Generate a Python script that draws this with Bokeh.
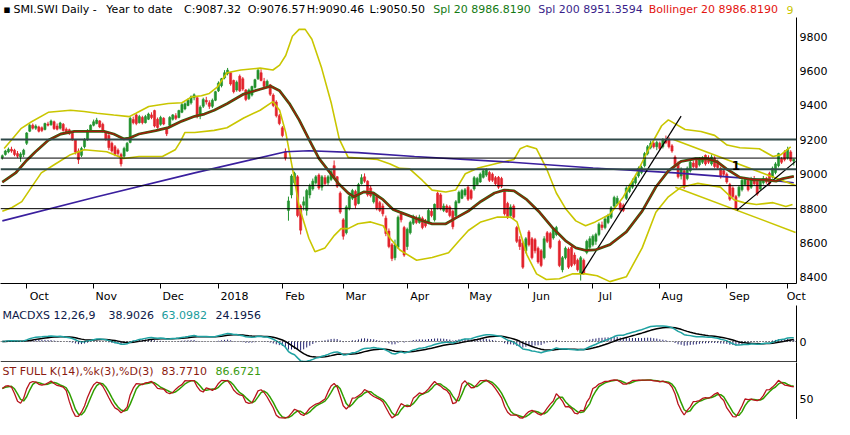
import numpy as np
import pandas as pd
from bokeh.plotting import figure
from bokeh.models import Range1d, FixedTicker, Label, Span, ColumnDataSource, LinearAxis
from bokeh.layouts import column
from bokeh.embed import file_html
from bokeh.resources import INLINE

FONT = "DejaVu Sans"

# ---------------- data ----------------
month_idx = [8, 30, 52, 71, 92, 112, 133, 153, 173, 194, 216, 238, 258]
month_lbl = ["Oct", "Nov", "Dec", "2018", "Feb", "Mar", "Apr", "May", "Jun", "Jul", "Aug", "Sep", "Oct"]
price_ticks = [8400, 8600, 8800, 9000, 9200, 9400, 9600, 9800]

opens = [
    9098, 9115, 9130, 9145, 9140, 9120, 9100, 9115, 9180, 9250,
    9285, 9268, 9275, 9270, 9260, 9292, 9288, 9305, 9280, 9268,
    9290, 9262, 9258, 9238, 9200, 9135, 9110, 9160, 9200, 9255,
    9285, 9295, 9310, 9290, 9245, 9225, 9180, 9160, 9140, 9115,
    9105, 9135, 9185, 9318, 9345, 9300, 9330, 9300, 9320, 9345,
    9370, 9320, 9290, 9325, 9265, 9285, 9320, 9340, 9330, 9360,
    9380, 9400, 9415, 9445, 9445, 9350, 9395, 9430, 9415, 9395,
    9430, 9485, 9515, 9560, 9585, 9590, 9545, 9490, 9570, 9555,
    9490, 9440, 9460, 9505, 9555, 9590, 9540, 9515, 9520, 9460,
    9420, 9340, 9270, 9130, 8790, 8880, 8950, 8985, 8815, 8820,
    8790, 8880, 8915, 8950, 8995, 8925, 8980, 8950, 8970, 9050,
    8985, 8890, 8735, 8660, 8800, 8860, 8900, 8830, 8945, 8985,
    8960, 8920, 8840, 8870, 8835, 8815, 8745, 8670, 8590, 8515,
    8575, 8770, 8690, 8580, 8660, 8715, 8745, 8720, 8745, 8725,
    8720, 8785, 8735, 8890, 8880, 8790, 8815, 8810, 8785, 8760,
    8835, 8860, 8880, 8925, 8905, 8915, 8940, 8955, 8982, 8995,
    9010, 9000, 8980, 8982, 8975, 8900, 8830, 8760, 8815, 8690,
    8620, 8600, 8555, 8665, 8625, 8620, 8570, 8555, 8515, 8660,
    8655, 8630, 8650, 8610, 8445, 8515, 8565, 8575, 8530, 8500,
    8425, 8500, 8545, 8575, 8590, 8610, 8650, 8705, 8690, 8720,
    8750, 8815, 8830, 8830, 8820, 8860, 8900, 8925, 8950, 8990,
    9010, 9050, 9120, 9155, 9180, 9160, 9180, 9160, 9200, 9205,
    9165, 9100, 9065, 8990, 9020, 8975, 9020, 9065, 9080, 9055,
    9070, 9110, 9095, 9060, 9095, 9075, 9035, 9020, 9000, 8940,
    8920, 8870, 8875, 8910, 8940, 8965, 8925, 8975, 8960, 8915,
    8950, 8975, 9005, 8985, 9010, 9050, 9090, 9130, 9095, 9130,
    9076.57,
]
highs = [
    9115, 9142, 9155, 9160, 9148, 9135, 9128, 9148, 9245, 9292,
    9295, 9290, 9282, 9278, 9300, 9305, 9318, 9312, 9295, 9305,
    9298, 9272, 9265, 9245, 9205, 9150, 9160, 9210, 9262, 9290,
    9318, 9328, 9315, 9300, 9250, 9240, 9190, 9170, 9150, 9125,
    9160, 9188, 9335, 9335, 9352, 9345, 9340, 9345, 9358, 9360,
    9375, 9330, 9340, 9332, 9275, 9338, 9350, 9355, 9375, 9415,
    9418, 9440, 9458, 9470, 9448, 9400, 9445, 9450, 9430, 9440,
    9485, 9540, 9560, 9605, 9618, 9595, 9550, 9545, 9580, 9565,
    9495, 9498, 9515, 9555, 9612, 9610, 9560, 9550, 9525, 9470,
    9430, 9350, 9280, 9150, 8870, 9000, 9015, 8995, 8825, 8870,
    8915, 8945, 8975, 8995, 9005, 8995, 8995, 8995, 9025, 9080,
    8990, 8900, 8745, 8820, 8880, 8915, 8910, 8950, 9000, 9005,
    8965, 8935, 8895, 8880, 8845, 8830, 8760, 8685, 8600, 8620,
    8760, 8780, 8700, 8690, 8730, 8765, 8760, 8765, 8755, 8740,
    8800, 8800, 8830, 8900, 8890, 8830, 8825, 8820, 8795, 8850,
    8905, 8915, 8920, 8935, 8915, 8990, 8985, 9010, 9030, 9035,
    9020, 9010, 8990, 8990, 8985, 8910, 8840, 8825, 8825, 8700,
    8640, 8610, 8635, 8675, 8635, 8630, 8580, 8565, 8640, 8670,
    8665, 8690, 8700, 8620, 8525, 8580, 8575, 8585, 8545, 8510,
    8525, 8510, 8620, 8640, 8650, 8660, 8720, 8725, 8755, 8770,
    8815, 8875, 8875, 8840, 8830, 8930, 8945, 8975, 8995, 9045,
    9050, 9130, 9170, 9195, 9190, 9195, 9190, 9210, 9225, 9215,
    9175, 9110, 9075, 9040, 9030, 9045, 9080, 9080, 9090, 9100,
    9105, 9115, 9110, 9115, 9105, 9085, 9045, 9030, 9010, 8950,
    8930, 8880, 8935, 8975, 8985, 8975, 8985, 8990, 8970, 8970,
    8990, 8985, 9015, 9045, 9070, 9125, 9100, 9140, 9160, 9140,
    9090.46,
]
lows = [
    9085, 9108, 9122, 9125, 9105, 9095, 9072, 9100, 9170, 9245,
    9260, 9258, 9243, 9245, 9255, 9278, 9282, 9258, 9255, 9260,
    9248, 9235, 9228, 9195, 9115, 9060, 9100, 9150, 9195, 9248,
    9278, 9290, 9268, 9243, 9195, 9140, 9125, 9105, 9100, 9045,
    9095, 9130, 9180, 9290, 9285, 9295, 9290, 9295, 9315, 9320,
    9272, 9265, 9282, 9285, 9222, 9280, 9312, 9315, 9325, 9355,
    9372, 9395, 9405, 9430, 9325, 9320, 9385, 9405, 9380, 9385,
    9425, 9478, 9505, 9552, 9575, 9515, 9470, 9480, 9478, 9485,
    9425, 9432, 9452, 9498, 9548, 9540, 9500, 9505, 9455, 9390,
    9330, 9285, 9215, 9080, 8730, 8860, 8940, 8750, 8650, 8790,
    8760, 8860, 8905, 8940, 8910, 8905, 8935, 8935, 8960, 8975,
    8920, 8770, 8620, 8650, 8790, 8850, 8800, 8825, 8940, 8950,
    8870, 8865, 8830, 8790, 8780, 8755, 8640, 8570, 8495, 8500,
    8565, 8720, 8520, 8560, 8650, 8705, 8710, 8712, 8680, 8690,
    8710, 8750, 8725, 8795, 8790, 8780, 8775, 8750, 8680, 8750,
    8830, 8855, 8870, 8845, 8850, 8905, 8935, 8950, 8975, 8985,
    8955, 8955, 8935, 8915, 8920, 8760, 8740, 8745, 8740, 8600,
    8560, 8450, 8540, 8580, 8505, 8540, 8480, 8460, 8505, 8600,
    8565, 8620, 8640, 8460, 8430, 8505, 8450, 8460, 8470, 8435,
    8382, 8415, 8535, 8565, 8580, 8590, 8640, 8675, 8680, 8710,
    8740, 8805, 8820, 8785, 8780, 8850, 8890, 8915, 8940, 8980,
    9000, 9040, 9110, 9145, 9150, 9140, 9140, 9150, 9175, 9150,
    9125, 9040, 8975, 8970, 8915, 8965, 9010, 9035, 9030, 9045,
    9060, 9050, 9060, 9050, 9035, 9030, 8975, 8985, 8945, 8845,
    8860, 8790, 8865, 8900, 8930, 8900, 8915, 8935, 8875, 8905,
    8940, 8945, 8935, 8975, 9000, 9040, 9060, 9075, 9085, 9070,
    9050.50,
]
closes = [
    9108, 9135, 9145, 9135, 9115, 9105, 9118, 9140, 9240, 9285,
    9268, 9280, 9250, 9255, 9295, 9285, 9310, 9265, 9262, 9298,
    9255, 9245, 9238, 9200, 9130, 9085, 9150, 9200, 9255, 9285,
    9305, 9315, 9275, 9250, 9205, 9155, 9135, 9115, 9120, 9060,
    9150, 9180, 9325, 9300, 9295, 9335, 9300, 9335, 9350, 9330,
    9280, 9272, 9330, 9292, 9235, 9330, 9345, 9325, 9370, 9405,
    9410, 9430, 9450, 9462, 9345, 9390, 9435, 9420, 9395, 9430,
    9480, 9530, 9555, 9590, 9605, 9525, 9480, 9535, 9485, 9495,
    9435, 9490, 9510, 9550, 9605, 9545, 9510, 9540, 9465, 9400,
    9340, 9295, 9225, 9094, 8845, 8990, 9005, 8760, 8675, 8840,
    8905, 8930, 8960, 8985, 8920, 8985, 8945, 8985, 9015, 8985,
    8930, 8780, 8640, 8810, 8870, 8905, 8820, 8940, 8980, 8960,
    8880, 8875, 8885, 8800, 8790, 8770, 8655, 8580, 8510, 8590,
    8750, 8735, 8530, 8680, 8720, 8755, 8720, 8750, 8690, 8700,
    8790, 8760, 8825, 8805, 8800, 8815, 8780, 8760, 8695, 8840,
    8895, 8905, 8910, 8855, 8860, 8980, 8975, 9000, 9020, 9025,
    8965, 8965, 8945, 8925, 8930, 8770, 8750, 8810, 8750, 8610,
    8580, 8460, 8625, 8590, 8515, 8555, 8490, 8470, 8625, 8610,
    8575, 8680, 8690, 8470, 8515, 8570, 8460, 8470, 8480, 8445,
    8515, 8425, 8610, 8625, 8640, 8650, 8710, 8690, 8740, 8760,
    8805, 8865, 8860, 8795, 8790, 8920, 8930, 8960, 8985, 9035,
    9040, 9120, 9160, 9180, 9160, 9185, 9150, 9200, 9185, 9160,
    9135, 9050, 8985, 9030, 8925, 9035, 9070, 9045, 9040, 9090,
    9095, 9060, 9070, 9100, 9045, 9040, 8985, 9000, 8955, 8855,
    8870, 8800, 8925, 8965, 8970, 8910, 8975, 8945, 8885, 8960,
    8975, 8955, 8945, 9035, 9060, 9120, 9070, 9085, 9145, 9080,
    9087.32,
]

# Spl 20 / Bollinger middle, day index -> value
sma20_day = [0, 4.5, 7.7, 10.9, 15.1, 19.2, 23.7, 28.9, 33.4, 36.6, 39.8, 41.7, 44.9, 50.4, 54.5,
             59, 63.2, 66.4, 69.6, 73.8, 79.3, 84.7, 88.2, 91.1, 94.3, 97.5, 100.7, 104, 107.2, 110.4,
             113.6, 115.5, 118.7, 121.9, 125.1, 128.3, 130.6, 133.8, 138, 141.2, 145.7, 148.9, 153.1,
             157.2, 161.7, 164.9, 168.1, 172.3, 176.5, 181, 185.2, 188.4, 191.6, 194.8, 199.6, 205,
             210.2, 214.7, 218.8, 223, 227.5, 231.7, 234.9, 238.1, 242.3, 246.8, 250.9, 254.2, 256.4, 260]
sma20_val = [8954, 9010, 9075, 9131, 9198, 9234, 9249, 9249, 9249, 9234, 9206, 9210, 9234, 9253, 9271,
             9309, 9337, 9350, 9372, 9410, 9466, 9494, 9512, 9485, 9411, 9316, 9204, 9092, 9020, 8947,
             8891, 8869, 8897, 8891, 8852, 8796, 8780, 8758, 8730, 8712, 8712, 8745, 8786,
             8842, 8891, 8908, 8904, 8852, 8779, 8684, 8611, 8572, 8557, 8560, 8591, 8665,
             8786, 8926, 9020, 9075, 9090, 9090, 9072, 9029, 8982, 8968, 8968, 8960, 8975, 8987]

bbu_day = [0.6, 3.2, 6.1, 9.6, 15.1, 22.4, 26.9, 31.1, 36.6, 41.7, 43.9, 48.1, 54.5, 59, 62.2,
           65.4, 68, 70.6, 73.8, 78.3, 84.7, 88.9, 91.1, 93.1, 95.3, 97.5, 99.5, 101.7, 104.9, 108.1,
           110.7, 113.6, 118.7, 123.2, 127.4, 130.6, 133.8, 138, 141.2, 145.7, 148.9, 152.1, 156.3,
           162.7, 168.1, 170.1, 172.3, 175.5, 178.7, 182, 185.2, 188.4, 191.6, 194.8, 199.6, 203.8,
           208.3, 212.4, 216.6, 218.8, 224.3, 229.5, 234, 238.1, 242.3, 248.7, 253.2, 255.8, 259]
bbu_val = [9150, 9204, 9265, 9305, 9360, 9372, 9365, 9355, 9344, 9335, 9355, 9394, 9411, 9416, 9450,
           9456, 9470, 9506, 9590, 9606, 9617, 9606, 9634, 9690, 9802, 9842, 9842, 9785, 9617, 9411,
           9204, 9098, 9092, 9086, 9060, 9034, 9031, 8964, 8908, 8897, 8908, 9003, 9036,
           9064, 9086, 9148, 9165, 9148, 9036, 8891, 8796, 8729, 8701, 8723, 8768, 8863,
           9003, 9148, 9282, 9316, 9260, 9249, 9226, 9170, 9154, 9148, 9103, 9114, 9159]

bbl_day = [0, 3.2, 6.4, 9.6, 12.8, 17.3, 22.4, 26.9, 34.3, 39.8, 44.9, 52.6, 56.8, 58.4, 60,
           63.2, 69.6, 73.8, 79.3, 84.7, 88.9, 91.1, 93.1, 95.3, 97.5, 100.7, 102.7, 106, 109.1, 111.3,
           113.6, 116.8, 121, 125.1, 127.4, 130.6, 136.1, 141.2, 146.6, 149.9, 153.1, 157.2, 162.7,
           166.9, 169.1, 172.3, 175.5, 178.7, 183, 187.4, 191.6, 195.4, 199.6, 205, 210.2, 214.7,
           218.8, 223, 228.5, 235.9, 240.3, 243.6, 247.7, 253.2, 257.4, 259.6]
bbl_val = [8785, 8807, 8841, 8925, 9008, 9058, 9114, 9142, 9131, 9092, 9103, 9103, 9142, 9187, 9243,
           9243, 9255, 9270, 9327, 9372, 9422, 9372, 9243, 9036, 8813, 8628, 8550, 8572, 8645, 8684,
           8684, 8712, 8723, 8701, 8628, 8560, 8500, 8516, 8544, 8611, 8673, 8723, 8751,
           8751, 8723, 8533, 8421, 8388, 8393, 8421, 8421, 8410, 8376, 8404, 8572, 8779,
           8869, 8925, 8947, 8925, 8852, 8835, 8824, 8835, 8813, 8824]

sma200_day = [0, 31.1, 63.2, 93.1, 100.7, 116.8, 135.4, 167.5, 194.1, 221.1, 237.1, 253.2, 260]
sma200_val = [8729, 8869, 9008, 9131, 9137, 9126, 9103, 9070, 9036, 9008, 8986, 8964, 8951]

thick_levels = [9202, 9029]
thin_levels = [9094, 8934, 8800]

black_trend_day = [[190.3, 223.0], [241.3, 260.6]]
black_trend_val = [[8421, 9338], [8790, 9075]]
yellow_trend_day = [[220.5, 260.6], [221.1, 260.6]]
yellow_trend_val = [[9202, 8934], [8925, 8662]]

# ---------------- geometry ----------------
W = 834
RB = 38
FW = W - RB
X0, X1 = -0.6, 260.9
PX_PER_DAY = FW / (X1 - X0)
H_TITLE = 17
H_MAIN, B_MAIN = 288, 22
FH_MAIN = H_MAIN - B_MAIN
Y0 = 8365
PX_PER_PT = 283.0 / 1645.0
Y1 = Y0 + FH_MAIN / PX_PER_PT
H_MACD = 57
H_ST = 57
ST0, ST1 = -1.0, 141.5


def refpx(rx):
    return (rx - 3) * FW / 811.0


def refx(rx):
    return X0 + refpx(rx) * (X1 - X0) / FW


n = min(len(opens), len(highs), len(lows), len(closes))
day = np.arange(n)
o = np.array(opens[:n], float)
h = np.array(highs[:n], float)
l = np.array(lows[:n], float)
c = np.array(closes[:n], float)

GREEN = "#22922e"
RED = "#e2232c"
col = [GREEN if cc >= oo else RED for oo, cc in zip(o, c)]
src = ColumnDataSource(dict(day=day, top=np.maximum(o, c), bot=np.minimum(o, c), hi=h, lo=l, col=col))

# indicators derived from the candles
cs = pd.Series(c)
ema12 = cs.ewm(span=12, adjust=False).mean()
ema26 = cs.ewm(span=26, adjust=False).mean()
macd = (ema12 - ema26).values
signal = pd.Series(macd).ewm(span=9, adjust=False).mean().values
hist = macd - signal

hh = pd.Series(h).rolling(14, min_periods=1).max()
ll = pd.Series(l).rolling(14, min_periods=1).min()
raw = 100 * (cs - ll) / (hh - ll).replace(0, np.nan)
raw = raw.fillna(50)
kline = raw.rolling(3, min_periods=1).mean().values
dline = pd.Series(kline).rolling(3, min_periods=1).mean().values


def style_common(p):
    p.grid.visible = False
    p.outline_line_color = None
    p.background_fill_color = "white"
    p.border_fill_color = "white"
    for ax in p.yaxis:
        ax.axis_line_color = "black"
        ax.major_tick_in = 0
        ax.major_tick_out = 0
        ax.minor_tick_in = 0
        ax.minor_tick_out = 0
        ax.major_label_standoff = 3
        ax.major_label_text_font = FONT
        ax.major_label_text_font_size = "11px"
        ax.major_label_text_color = "black"


# ---------------- title strip ----------------
pt = figure(width=W, height=H_TITLE, x_range=Range1d(0, W), y_range=Range1d(0, H_TITLE),
            output_backend="svg", toolbar_location=None, x_axis_location=None, y_axis_location=None,
            min_border=0)
pt.grid.visible = False
pt.outline_line_color = None
YEL = "#c9c600"
title_parts = [("\u25aa", 6, "black"), ("SMI.SWI Daily -", 17, "black"), ("Year to date", 116, "black"),
               ("C:9087.32", 199, "black"), ("O:9076.57", 267, "black"), ("H:9090.46", 330, "black"),
               ("L:9050.50", 397, "black"), ("Spl 20 8986.8190", 465, "#137a13"),
               ("Spl 200 8951.3594", 577, "#3a1f8a"), ("Bollinger 20 8986.8190", 695, "#e3140f"),
               ("9", 842, YEL)]
for txt, rx, cl in title_parts:
    pt.add_layout(Label(x=refpx(rx), y=H_TITLE - 9, text=txt, text_font=FONT, text_font_size="11px",
                        text_color=cl, text_align="left", text_baseline="middle"))

# ---------------- main price panel ----------------
xr = Range1d(X0, X1)
p = figure(width=W, height=H_MAIN, x_range=xr, y_range=Range1d(Y0, Y1),
           output_backend="svg", toolbar_location=None, y_axis_location="right",
           min_border_left=0, min_border_right=RB, min_border_top=0, min_border_bottom=B_MAIN)
style_common(p)
p.yaxis.ticker = FixedTicker(ticks=price_ticks)

# axis with the month tick marks only
p.xaxis.ticker = FixedTicker(ticks=month_idx)
p.xaxis.major_label_overrides = {m: "" for m in month_idx}
p.xaxis.major_label_text_font_size = "1px"
p.xaxis.major_label_standoff = 0
p.xaxis.axis_line_color = "black"
p.xaxis.major_tick_out = 5
p.xaxis.major_tick_in = 0
p.xaxis.minor_tick_out = 0
p.xaxis.minor_tick_in = 0
p.xaxis.major_tick_line_color = "black"

# second axis carrying the month names, placed just right of each tick
lab_pos = [round(min(m + ((7.0 * len(s)) / 2 + 2) / PX_PER_DAY, X1 - 0.1), 2)
           for m, s in zip(month_idx, month_lbl)]
lab_axis = LinearAxis(ticker=FixedTicker(ticks=lab_pos),
                      major_label_overrides={pp: s for pp, s in zip(lab_pos, month_lbl)})
lab_axis.axis_line_color = None
lab_axis.major_tick_line_color = None
lab_axis.minor_tick_line_color = None
lab_axis.major_tick_out = 0
lab_axis.major_tick_in = 0
lab_axis.minor_tick_out = 0
lab_axis.minor_tick_in = 0
lab_axis.major_label_standoff = 1
lab_axis.major_label_text_font = FONT
lab_axis.major_label_text_font_size = "11px"
lab_axis.major_label_text_color = "black"
p.add_layout(lab_axis, "below")

for lv in thin_levels:
    p.add_layout(Span(location=lv, dimension="width", line_color="black", line_width=1))
for lv in thick_levels:
    p.add_layout(Span(location=lv, dimension="width", line_color="#2f4848", line_width=2.2))

p.segment(x0="day", y0="lo", x1="day", y1="hi", line_color="col", line_width=1, source=src)
p.vbar(x="day", width=0.7, top="top", bottom="bot", fill_color="col", line_color="col",
       line_width=0.6, source=src)

p.line(bbu_day, bbu_val, line_color=YEL, line_width=1.6)
p.line(bbl_day, bbl_val, line_color=YEL, line_width=1.6)
p.line(sma200_day, sma200_val, line_color="#3a1f9e", line_width=1.6)
for dd, vv in zip(yellow_trend_day, yellow_trend_val):
    p.line(dd, vv, line_color=YEL, line_width=1.6)
for dd, vv in zip(black_trend_day, black_trend_val):
    p.line(dd, vv, line_color="black", line_width=1.2)
p.line(sma20_day, sma20_val, line_color="#2d6a10", line_width=2.8)
p.line(sma20_day, sma20_val, line_color="#a5180c", line_width=1.3)

p.add_layout(Label(x=241, y=9053, text="1", text_font=FONT, text_font_size="12px",
                   text_font_style="bold", text_align="center", text_baseline="middle",
                   text_color="black"))

# ---------------- MACD panel ----------------
mlo = min(macd.min(), signal.min(), hist.min()) * 1.05
mhi = -mlo * 36.0 / 21.0
pm = figure(width=W, height=H_MACD, x_range=xr, y_range=Range1d(mlo, mhi),
            output_backend="svg", toolbar_location=None, y_axis_location="right", x_axis_location=None,
            min_border_left=0, min_border_right=RB, min_border_top=0, min_border_bottom=0)
style_common(pm)
pm.yaxis.ticker = FixedTicker(ticks=[0])
pm.add_layout(Span(location=0, dimension="width", line_color="#222222", line_width=1, line_dash="1 2"))
pm.segment(x0=day, y0=np.zeros(n), x1=day, y1=hist, line_color="#23236e", line_width=1)
pm.line(day, signal, line_color="black", line_width=1.5)
pm.line(day, macd, line_color="#1fa2a2", line_width=1.5)
pm.add_layout(Span(location=mlo + (mhi - mlo) * 0.7 / H_MACD, dimension="width",
                   line_color="black", line_width=1.2))
mty = mhi - 9.5 * (mhi - mlo) / H_MACD
for txt, rx, cl in [("MACDXS 12,26,9", 5, "#0c1848"), ("38.9026", 113, "#0c1848"),
                    ("63.0982", 167, "#1a9c9c"), ("24.1956", 222, "#0c1848")]:
    pm.add_layout(Label(x=refx(rx), y=mty, text=txt, text_font=FONT, text_font_size="11px",
                        text_color=cl, text_align="left", text_baseline="middle"))

# ---------------- Stochastic panel ----------------
ps = figure(width=W, height=H_ST, x_range=xr, y_range=Range1d(ST0, ST1),
            output_backend="svg", toolbar_location=None, y_axis_location="right", x_axis_location=None,
            min_border_left=0, min_border_right=RB, min_border_top=0, min_border_bottom=0)
style_common(ps)
ps.yaxis.ticker = FixedTicker(ticks=[50])
ps.line(day, dline, line_color="#2f9f00", line_width=1.5)
ps.line(day, kline, line_color="#b8141c", line_width=1.3)
sty = ST1 - 8.5 * (ST1 - ST0) / H_ST
for txt, rx, cl in [("ST FULL K(14),%k(3),%D(3)", 5, "#8a1a10"), ("83.7710", 167, "#8a1a10"),
                    ("86.6721", 222, "#3a9a10")]:
    ps.add_layout(Label(x=refx(rx), y=sty, text=txt, text_font=FONT, text_font_size="11px",
                        text_color=cl, text_align="left", text_baseline="middle"))

layout = column(pt, p, pm, ps, spacing=0)
open("out.html", "w").write(file_html(layout, INLINE))
